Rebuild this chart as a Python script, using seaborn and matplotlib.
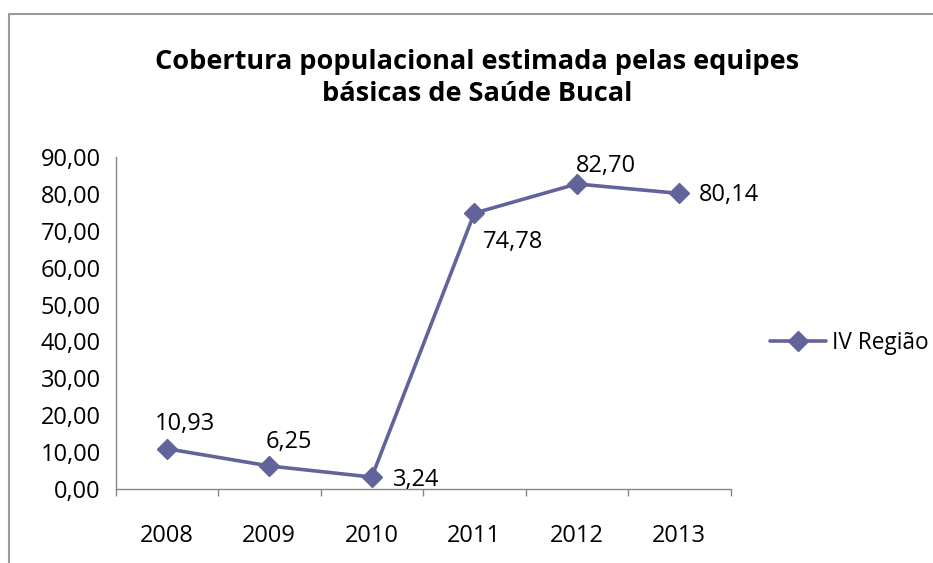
import numpy as np
import pandas as pd
import matplotlib
matplotlib.use("Agg")
import matplotlib.pyplot as plt
import seaborn as sns
from matplotlib.lines import Line2D

# dados
anos = ["2008", "2009", "2010", "2011", "2012", "2013"]
cobertura = [10.93, 6.25, 3.24, 74.78, 82.70, 80.14]
rotulos = ["10,93", "6,25", "3,24", "74,78", "82,70", "80,14"]
serie = "IV Região"
titulo = "Cobertura populacional estimada pelas equipes\nbásicas de Saúde Bucal"
yticks = [0, 10, 20, 30, 40, 50, 60, 70, 80, 90]

cor = "#63639B"
cinza = "#868686"

sns.set_style("white")
plt.rcParams["font.family"] = ["Open Sans", "DejaVu Sans"]
plt.rcParams["text.color"] = "black"
plt.rcParams["xtick.labelcolor"] = "black"
plt.rcParams["ytick.labelcolor"] = "black"

df = pd.DataFrame({"pos": np.arange(len(anos)), "cobertura": cobertura})

fig = plt.figure(figsize=(9.33, 5.63), dpi=100)
ax = fig.add_axes([0.1238, 0.1314, 0.6592, 0.5897])

sns.lineplot(data=df, x="pos", y="cobertura", ax=ax, color=cor, linewidth=2.6,
             marker="D", markersize=10.5, markeredgecolor=cor, markeredgewidth=1,
             label=serie)

# rotulos de dados (deslocamento em pontos)
offsets = [(13, 18, "center"), (14, 17, "center"), (15, -2, "left"),
           (28, -21, "center"), (21, 13, "center"), (14, -1, "left")]
for i, (dx, dy, ha) in enumerate(offsets):
    ax.annotate(rotulos[i], (df["pos"][i], cobertura[i]), xytext=(dx, dy),
                textcoords="offset points", ha=ha, va="center", fontsize=17)

ax.set_xlim(-0.5, len(anos) - 0.5)
ax.set_ylim(0, 90)
ax.set_xticks(df["pos"], anos)
ax.set_xticks(np.arange(-0.5, len(anos)), minor=True)
ax.set_yticks(yticks, [f"{v:.2f}".replace(".", ",") for v in yticks])
ax.tick_params(axis="x", which="major", length=0, pad=25, labelsize=17)
ax.tick_params(axis="x", which="minor", length=5, width=1, color=cinza, direction="out")
ax.tick_params(axis="y", length=5.5, width=1, color=cinza, direction="out", pad=5, labelsize=17)
ax.tick_params(axis="x", which="minor", bottom=True)
ax.set_xlabel("")
ax.set_ylabel("")
for s in ["top", "right"]:
    ax.spines[s].set_visible(False)
for s in ["left", "bottom"]:
    ax.spines[s].set_color(cinza)
    ax.spines[s].set_linewidth(1)

ax.legend(loc="center left", bbox_to_anchor=(0.825, 0.391), bbox_transform=fig.transFigure,
          frameon=False, fontsize=16.3, handlelength=2.5, handletextpad=0.25,
          borderpad=0, borderaxespad=0)

fig.text(0.511, 0.862, titulo, ha="center", va="center", fontsize=19.5,
         fontweight="bold", linespacing=1.3)

# borda da area do grafico
fig.add_artist(Line2D([0.0096, 1.0], [0.975, 0.975], transform=fig.transFigure,
                      color="#9a9a9a", linewidth=1.5))
fig.add_artist(Line2D([0.0096, 0.0096], [0.0, 0.975], transform=fig.transFigure,
                      color="#9a9a9a", linewidth=1.5))

fig.savefig("out.png", dpi=100)
